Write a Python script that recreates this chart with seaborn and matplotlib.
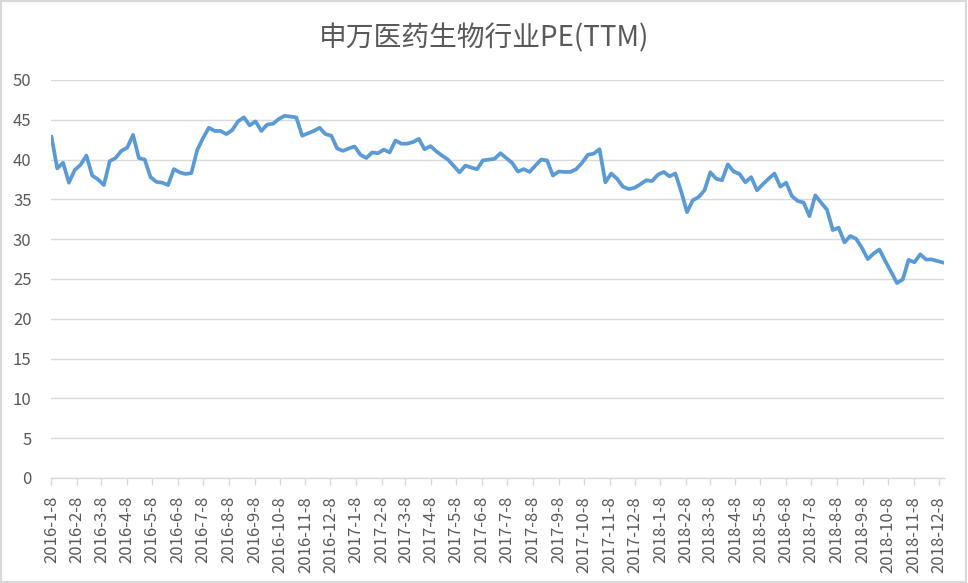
import numpy as np
import pandas as pd
import matplotlib
matplotlib.use("Agg")
import matplotlib.pyplot as plt
import matplotlib.dates as mdates
from matplotlib.patches import Rectangle
import seaborn as sns

title = "申万医药生物行业PE(TTM)"
start_date = "2016-01-08"
n_weeks_freq = "7D"

pe_values = [
    42.9, 38.9, 39.6, 37.1, 38.7, 39.35, 40.5, 38.0, 37.5, 36.8, 39.8, 40.2, 41.1, 41.5,
    43.1, 40.2, 40.0, 37.8, 37.2, 37.1, 36.8, 38.8, 38.4, 38.2, 38.3, 41.2, 42.7,
    44.0, 43.6, 43.6, 43.2, 43.7, 44.8, 45.3, 44.3, 44.8, 43.6, 44.4, 44.5, 45.1, 45.5,
    45.4, 45.3, 43.0, 43.3, 43.6, 44.0, 43.2, 43.0, 41.4, 41.1, 41.4, 41.65,
    40.6, 40.2, 40.9, 40.8, 41.25, 40.9, 42.4, 42.0, 42.0, 42.2, 42.6, 41.3, 41.7, 41.05,
    40.5, 40.0, 39.2, 38.4, 39.25, 39.0, 38.8, 39.9, 40.0, 40.1, 40.8, 40.2, 39.6,
    38.5, 38.8, 38.45, 39.25, 40.0, 39.9, 38.0, 38.5, 38.45, 38.45, 38.8, 39.6, 40.6,
    40.75, 41.3, 37.15, 38.25, 37.6, 36.6, 36.3, 36.45, 36.9, 37.4, 37.3, 38.1, 38.45,
    37.9, 38.25, 36.0, 33.4, 34.9, 35.3, 36.15, 38.4, 37.6, 37.4, 39.4, 38.5, 38.2, 37.15,
    37.8, 36.15, 36.9, 37.6, 38.25, 36.6, 37.1, 35.4, 34.8, 34.6, 32.9, 35.5, 34.6,
    33.7, 31.15, 31.45, 29.6, 30.4, 30.05, 28.9, 27.5, 28.2, 28.7, 27.25, 25.9, 24.5,
    24.95, 27.4, 27.1, 28.1, 27.45, 27.45, 27.25, 27.05,
]

tick_dates = [
    "2016-1-8", "2016-2-8", "2016-3-8", "2016-4-8", "2016-5-8", "2016-6-8",
    "2016-7-8", "2016-8-8", "2016-9-8", "2016-10-8", "2016-11-8", "2016-12-8",
    "2017-1-8", "2017-2-8", "2017-3-8", "2017-4-8", "2017-5-8", "2017-6-8",
    "2017-7-8", "2017-8-8", "2017-9-8", "2017-10-8", "2017-11-8", "2017-12-8",
    "2018-1-8", "2018-2-8", "2018-3-8", "2018-4-8", "2018-5-8", "2018-6-8",
    "2018-7-8", "2018-8-8", "2018-9-8", "2018-10-8", "2018-11-8", "2018-12-8",
]
y_ticks = [0, 5, 10, 15, 20, 25, 30, 35, 40, 45, 50]

dates = pd.date_range(start=start_date, periods=len(pe_values), freq=n_weeks_freq)
df = pd.DataFrame({"date": dates, "pe": pe_values})

sns.set_theme(style="white")
plt.rcParams["font.family"] = ["Noto Sans CJK SC", "DejaVu Sans"]

W, H = 968, 583
fig = plt.figure(figsize=(W / 100, H / 100), dpi=100)
ax = fig.add_axes([51 / W, (H - 478) / H, (944 - 51) / W, (478 - 80) / H])

sns.lineplot(data=df, x="date", y="pe", ax=ax, color="#5B9BD5", linewidth=2.7)

grey = "#595959"
ax.set_ylim(0, 50)
ax.set_yticks(y_ticks)
ax.set_yticklabels([str(v) for v in y_ticks], fontsize=12, color=grey)
ax.yaxis.grid(True, color="#D9D9D9", linewidth=1)
ax.xaxis.grid(False)

tick_dt = pd.to_datetime(tick_dates)
ax.set_xticks(tick_dt)
ax.set_xticklabels(tick_dates, rotation=90, fontsize=12, color=grey)
ax.set_xlim(dates[0] - pd.Timedelta(hours=12), dates[-1] + pd.Timedelta(hours=12))

ax.tick_params(axis="x", length=5, width=1, color="#D9D9D9", pad=8, bottom=True)
ax.tick_params(axis="y", length=0, pad=14)

for s in ["top", "right", "left"]:
    ax.spines[s].set_visible(False)
ax.spines["bottom"].set_color("#D9D9D9")
ax.spines["bottom"].set_linewidth(1)
ax.set_xlabel("")
ax.set_ylabel("")

fig.text(0.5, 1 - 38 / H, title, ha="center", va="center", fontsize=20, color=grey)

fig.patches.append(Rectangle((0.001, 0.002), 0.997, 0.996, transform=fig.transFigure,
                             fill=False, edgecolor="#D9D9D9", linewidth=1.5))

fig.savefig("out.png", dpi=100)
